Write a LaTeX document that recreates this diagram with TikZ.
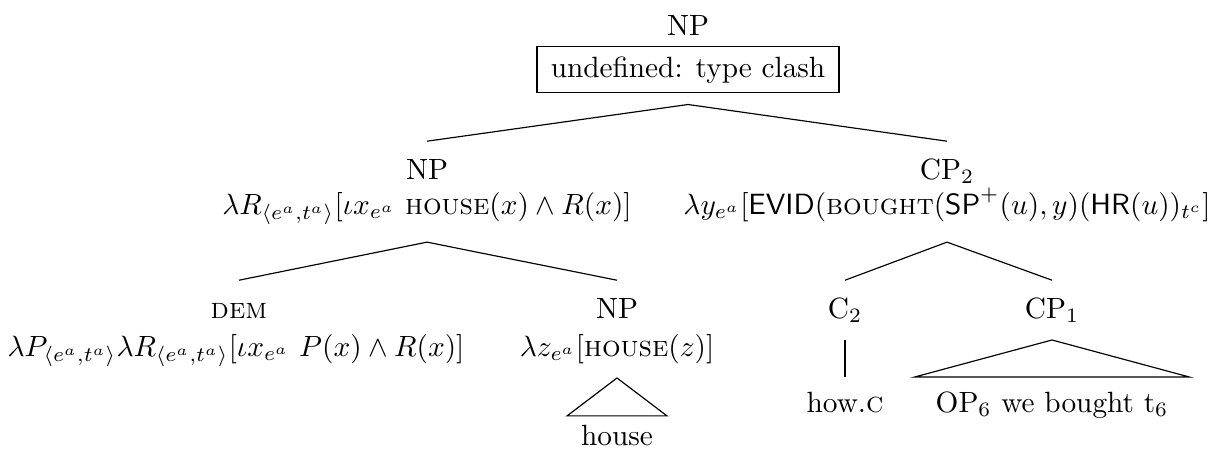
\documentclass[tikz,border=0pt]{standalone}
\begin{document}
\begin{tikzpicture}[x=0.3413pt,y=-0.3413pt,
  lab/.style={anchor=base,inner sep=0pt,text height=6.9pt,text depth=1.5pt,outer ysep=6pt},
  form/.style={anchor=base,inner xsep=3.33pt,inner ysep=0pt,text height=7.5pt,text depth=3pt,outer ysep=6.6pt},
  leaf/.style={anchor=base,inner ysep=5pt,outer sep=0pt,text height=6.94pt,text depth=0pt}]
\useasboundingbox (0,0) rectangle (1221,455);
% root
\node[anchor=base] (top) at (688,35) {NP};
\node[draw,anchor=base,inner xsep=4.7pt,outer ysep=4pt] (box) at (688,77) {undefined: type clash};
% level 2
\node[lab] (npL) at (427,179) {NP};
\node[form] (npLf) at (427,214) {$\lambda R_{\langle e^a,t^a\rangle}[\iota x_{e^a}\ \textsc{house}(x)\wedge R(x)]$};
\node[lab] (cp2) at (947,179) {CP$_2$};
\node[form] (cp2f) at (947,214) {$\lambda y_{e^a}[\textsf{EVID}(\textsc{bought}(\textsf{SP}^+(u),y)(\textsf{HR}(u))_{t^c}]$};
% level 3
\node[lab] (dem) at (239,318) {\textsc{dem}};
\node[form] (demf) at (236,356) {$\lambda P_{\langle e^a,t^a\rangle}\lambda R_{\langle e^a,t^a\rangle}[\iota x_{e^a}\ P(x)\wedge R(x)]$};
\node[lab] (npR) at (617,318) {NP};
\node[form,outer ysep=4.5pt] (npRf) at (617,356) {$\lambda z_{e^a}[\textsc{house}(z)]$};
\node[lab] (c2) at (845,318) {C$_2$};
\node[lab] (cp1) at (1052,318) {CP$_1$};
% leaves
\node[leaf,inner xsep=4.8pt,inner ysep=3pt] (house) at (617,445) {house};
\node[leaf,inner xsep=3.33pt] (how) at (845,412) {how.\textsc{c}};
\node[leaf,inner xsep=7.2pt] (op) at (1052,412) {OP$_6$ we bought t$_6$};
% connectors
\draw (box.south) -- (npL.north);
\draw (box.south) -- (cp2.north);
\draw (npLf.south) -- (dem.north);
\draw (npLf.south) -- (npR.north);
\draw (cp2f.south) -- (c2.north);
\draw (cp2f.south) -- (cp1.north);
\draw (npRf.south) -- (house.north west) -- (house.north east) -- cycle;
\draw (c2.south) -- (how.north);
\draw (cp1.south) -- (op.north west) -- (op.north east) -- cycle;
\end{tikzpicture}
\end{document}
